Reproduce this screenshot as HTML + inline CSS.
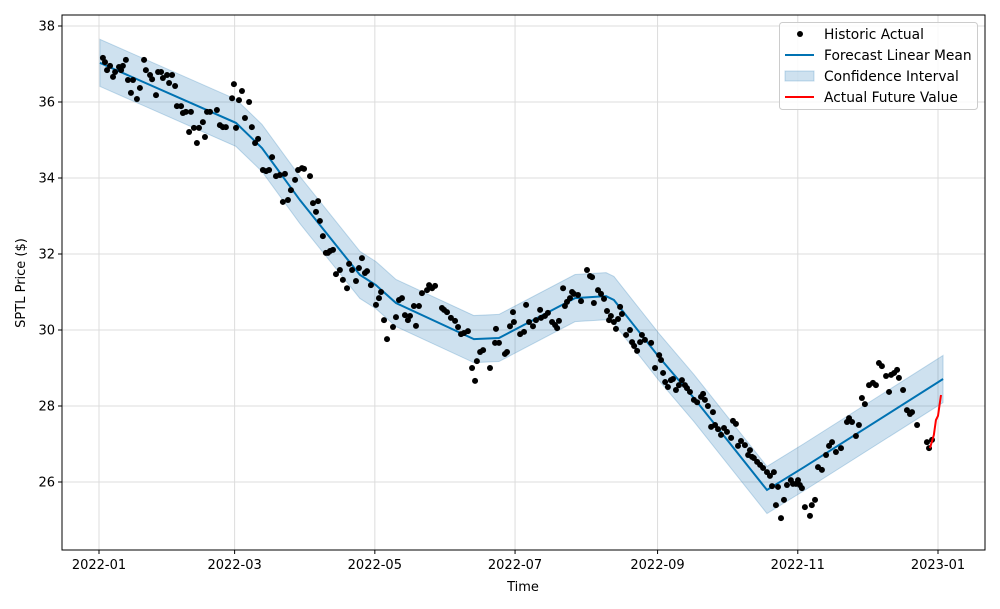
<!DOCTYPE html>
<html><head><meta charset="utf-8">
<style>
html,body{margin:0;padding:0;background:#fff;}
svg{display:block;font-family:"DejaVu Sans","Liberation Sans",sans-serif;}
</style></head>
<body>
<svg id="chart" width="1000" height="609" viewBox="0 0 1000 609"></svg>
<script>
// Data: day offsets since 2022-01-01, prices in $
const histDays=[1.7,2.6,3.5,4.8,6.1,7.0,8.7,9.6,10.4,11.7,12.6,13.9,14.8,16.5,17.8,19.6,20.4,22.2,23.1,24.8,25.7,27.0,27.8,29.6,30.5,31.8,33.1,33.9,35.7,36.5,37.8,39.2,40.0,41.3,42.6,43.5,45.2,46.1,47.0,48.3,51.3,52.6,53.9,55.2,57.9,58.7,59.6,60.9,62.2,63.5,65.3,66.5,67.9,69.2,71.3,72.7,74.0,75.3,77.0,78.7,80.0,80.9,82.2,83.5,85.3,86.6,88.3,89.2,91.8,93.1,94.4,95.3,96.1,97.4,98.7,99.6,100.5,101.8,103.1,104.8,106.1,107.9,108.8,110.1,111.8,113.1,114.4,115.7,116.6,118.3,120.5,121.8,122.7,124.0,125.3,127.9,129.2,130.5,131.8,133.1,134.4,135.3,137.0,137.9,139.2,140.5,142.7,143.6,144.9,146.2,149.2,150.1,151.4,153.1,154.9,156.2,157.5,158.8,160.5,162.3,163.6,164.4,165.8,167.1,170.1,172.3,172.7,174.0,176.6,177.5,178.8,180.1,180.5,183.2,184.9,185.8,187.1,188.8,190.1,191.9,192.3,194.0,195.3,197.1,198.4,199.3,200.1,201.9,202.7,203.6,204.9,205.8,206.6,208.4,209.7,212.3,213.6,214.5,215.3,217.1,218.4,219.7,221.0,221.9,222.7,224.0,224.9,225.8,226.7,227.5,229.3,231.0,231.9,232.8,234.1,235.4,236.2,237.5,240.2,241.9,243.7,244.5,245.4,246.3,247.5,248.8,249.7,251.0,252.3,253.6,254.9,255.8,257.1,258.8,260.2,261.9,262.8,263.6,264.9,266.3,267.1,268.0,269.3,270.6,271.9,273.2,275.0,275.8,277.1,278.0,279.3,281.0,282.4,283.2,284.1,284.9,286.3,287.6,288.9,290.6,291.9,292.8,293.6,294.5,295.4,296.7,298.0,299.3,301.0,301.9,303.2,304.1,304.9,305.8,307.1,309.3,310.1,311.5,312.8,314.5,316.3,317.6,318.9,320.6,322.8,325.4,326.3,327.6,329.3,330.6,331.9,333.2,335.0,336.7,338.0,339.3,340.6,342.4,343.7,344.6,345.9,347.2,348.0,349.8,351.5,352.8,353.7,355.9,360.2,361.1,362.4];
const histPrice=[37.16,37.05,36.84,36.95,36.66,36.79,36.92,36.84,36.95,37.11,36.58,36.24,36.58,36.08,36.37,37.11,36.84,36.71,36.60,36.18,36.79,36.79,36.63,36.71,36.50,36.71,36.42,35.89,35.89,35.71,35.74,35.21,35.74,35.32,34.92,35.32,35.47,35.08,35.74,35.74,35.79,35.39,35.34,35.34,36.10,36.47,35.32,36.05,36.29,35.58,36.00,35.34,34.92,35.03,34.21,34.18,34.21,34.55,34.05,34.08,33.37,34.11,33.42,33.68,33.95,34.21,34.26,34.24,34.05,33.34,33.11,33.39,32.87,32.47,32.03,32.03,32.08,32.11,31.47,31.58,31.32,31.10,31.74,31.58,31.29,31.63,31.89,31.50,31.55,31.18,30.66,30.84,31.00,30.26,29.76,30.08,30.34,30.79,30.84,30.39,30.26,30.37,30.63,30.11,30.63,30.97,31.05,31.18,31.10,31.16,30.58,30.53,30.47,30.32,30.24,30.08,29.89,29.92,29.97,29.00,28.66,29.18,29.42,29.47,29.00,29.66,30.03,29.66,29.37,29.42,30.10,30.47,30.21,29.89,29.95,30.66,30.21,30.10,30.26,30.53,30.32,30.37,30.45,30.21,30.13,30.05,30.24,31.10,30.63,30.74,30.84,31.00,30.95,30.92,30.76,31.58,31.42,31.39,30.71,31.05,30.95,30.82,30.50,30.26,30.37,30.21,30.03,30.29,30.61,30.42,29.87,30.00,29.68,29.58,29.45,29.68,29.87,29.74,29.66,29.00,29.34,29.21,28.87,28.63,28.50,28.68,28.71,28.42,28.55,28.68,28.55,28.47,28.37,28.16,28.10,28.24,28.32,28.16,28.00,27.45,27.84,27.50,27.39,27.24,27.42,27.32,27.16,27.61,27.53,26.95,27.08,26.97,26.71,26.84,26.66,26.63,26.53,26.45,26.37,26.26,26.16,25.89,26.26,25.39,25.87,25.05,25.53,25.92,26.05,25.95,25.95,26.05,25.92,25.84,25.34,25.11,25.39,25.53,26.39,26.32,26.71,26.95,27.05,26.79,26.89,27.58,27.68,27.58,27.21,27.50,28.21,28.05,28.55,28.61,28.55,29.13,29.05,28.79,28.37,28.82,28.87,28.95,28.74,28.42,27.89,27.79,27.84,27.50,27.05,26.89,27.11];
const fcDays=[0.4,59.6,70.9,87.4,113.5,120.5,129.2,163.1,174.0,207.1,220.6,224.0,243.6,258.8,290.6,306.7,367.2];
const fcMean=[37.03,35.45,34.79,33.42,31.45,31.18,30.71,29.76,29.79,30.84,30.89,30.79,29.29,28.21,25.79,26.39,28.71];
const fcHalfWidth=[0.62,0.62,0.62,0.62,0.62,0.62,0.62,0.62,0.62,0.62,0.62,0.62,0.62,0.62,0.62,0.62,0.62];
const futDays=[361.5,363.2,364.1,365.0,366.3];
const futPrice=[26.89,27.24,27.63,27.74,28.29];
const xTickDays=[0,59,120,181,243,304,365];
const xTickLabels=["2022-01","2022-03","2022-05","2022-07","2022-09","2022-11","2023-01"];
const yTicks=[26,28,30,32,34,36,38];

const NS="http://www.w3.org/2000/svg";
const svg=document.getElementById('chart');
const L=62,R=985,T=15,B=550;
const xS=d=>99+d*839/365;
const yS=v=>26+(38-v)*38;
function mk(tag,attrs,parent){const e=document.createElementNS(NS,tag);for(const k in attrs)e.setAttribute(k,attrs[k]);(parent||svg).appendChild(e);return e;}

const grid=mk('g',{});


xTickDays.forEach((d,i)=>{
  const x=xS(d);
  const gl=mk('line',{x1:x,x2:x,y1:T,y2:B,stroke:'#dcdcdc','stroke-width':1},grid);
  
  
  const tk=mk('line',{x1:x,x2:x,y1:B,y2:B+4,stroke:'#000'});
  
  
  const t=mk('text',{x:x,y:B+19,'text-anchor':'middle','font-size':13,fill:'#000'});
  t.textContent=xTickLabels[i];
  
  
});
yTicks.forEach(v=>{
  const y=yS(v);
  const gl=mk('line',{x1:L,x2:R,y1:y,y2:y,stroke:'#dcdcdc','stroke-width':1},grid);
  
  
  const tk=mk('line',{x1:L-4,x2:L,y1:y,y2:y,stroke:'#000'});
  
  
  const t=mk('text',{x:L-7,y:y+4.5,'text-anchor':'end','font-size':13,fill:'#000'});
  t.textContent=String(v);
  
  
});

// confidence band
let up=fcDays.map((d,i)=>xS(d)+','+yS(fcMean[i]+fcHalfWidth[i]));
let lo=fcDays.map((d,i)=>xS(d)+','+yS(fcMean[i]-fcHalfWidth[i])).reverse();
const band=mk('polygon',{points:up.concat(lo).join(' '),fill:'rgba(31,119,180,0.22)',stroke:'rgba(31,119,180,0.25)','stroke-width':1});



// mean line
const mean=mk('polyline',{points:fcDays.map((d,i)=>xS(d)+','+yS(fcMean[i])).join(' '),fill:'none',stroke:'#0072B2','stroke-width':2});



// historic points
const pts=mk('g',{});


histDays.forEach((d,i)=>{
  const c=mk('circle',{cx:xS(d),cy:yS(histPrice[i]),r:3,fill:'#000'},pts);
  
  
});

// future line
const fut=mk('polyline',{points:futDays.map((d,i)=>xS(d)+','+yS(futPrice[i])).join(' '),fill:'none',stroke:'#ff0000','stroke-width':2});



// frame
const fr=mk('rect',{x:L,y:T,width:R-L,height:B-T,fill:'none',stroke:'#000','stroke-width':1});



const xt=mk('text',{x:523,y:591,'text-anchor':'middle','font-size':13});
xt.textContent='Time';


const yt=mk('text',{x:0,y:0,'text-anchor':'middle','font-size':13,transform:'translate(25,283) rotate(-90)'});
yt.textContent='SPTL Price ($)';



// legend
const lg=mk('g',{});


mk('rect',{x:779.5,y:22.5,width:198,height:87,rx:3,fill:'#fff','fill-opacity':0.85,stroke:'#ccc'},lg);
const items=['Historic Actual','Forecast Linear Mean','Confidence Interval','Actual Future Value'];
items.forEach((s,i)=>{
  const y=34+i*21;
  if(i===0){mk('circle',{cx:800,cy:y,r:3,fill:'#000'},lg);}
  if(i===1){mk('line',{x1:785,x2:814,y1:y,y2:y,stroke:'#0072B2','stroke-width':2},lg);}
  if(i===2){mk('rect',{x:785,y:y-5,width:29,height:10,fill:'rgba(31,119,180,0.22)',stroke:'rgba(31,119,180,0.25)'},lg);}
  if(i===3){mk('line',{x1:785,x2:814,y1:y,y2:y,stroke:'#ff0000','stroke-width':2},lg);}
  const t=mk('text',{x:824,y:y+5,'font-size':13.8},lg);
  t.textContent=s;
  
  
});
</script>
</body></html>
